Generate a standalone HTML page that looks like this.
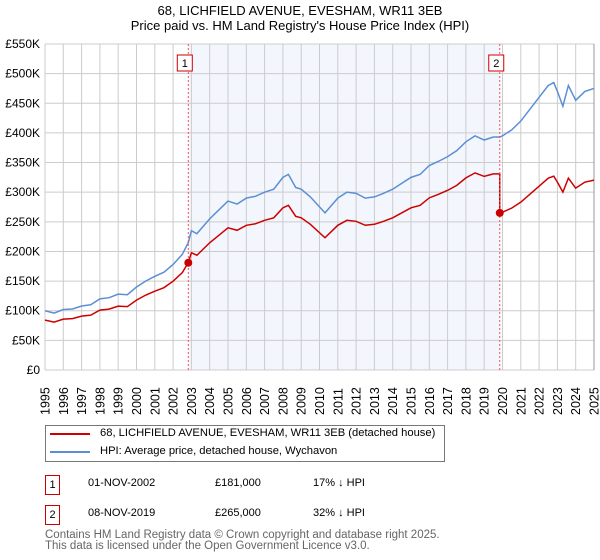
<!DOCTYPE html>
<html><head><meta charset="utf-8"><style>
body{margin:0;background:#fff;font-family:"Liberation Sans","DejaVu Sans",sans-serif;}
#wrap{position:relative;width:600px;height:560px;overflow:hidden}
.t{position:absolute;font-size:12px;color:#000;white-space:nowrap}
</style></head><body><div id="wrap">
<svg id="svg" width="600" height="560" style="position:absolute;left:0;top:0"></svg>
</div>
<script>
const years=[1995,1995.5,1996,1996.5,1997,1997.5,1998,1998.5,1999,1999.5,2000,2000.5,2001,2001.5,2002,2002.5,2002.83,2003,2003.3,2004,2004.5,2005,2005.5,2006,2006.5,2007,2007.5,2008,2008.3,2008.7,2009,2009.5,2010.3,2011,2011.5,2012,2012.5,2013,2013.5,2014,2014.5,2015,2015.5,2016,2016.5,2017,2017.5,2018,2018.5,2019,2019.5,2019.85,2020,2020.5,2021,2021.5,2022,2022.5,2022.8,2023,2023.3,2023.6,2024,2024.5,2025];
const hpi=[100,96,102,103,108,110,120,122,128,127,140,150,158,165,178,195,215,235,230,255,270,285,280,290,293,300,305,325,330,308,305,292,265,290,300,298,290,292,298,305,315,325,330,345,352,360,370,385,395,388,393,393,395,405,420,440,460,480,485,470,445,480,455,470,475];
const saleYears=[2002.83,2019.85];
const salePrices=[181,265];
const yTicks=[0,50,100,150,200,250,300,350,400,450,500,550];
const yLabels=["£0","£50K","£100K","£150K","£200K","£250K","£300K","£350K","£400K","£450K","£500K","£550K"];
const xTicks=[1995,1996,1997,1998,1999,2000,2001,2002,2003,2004,2005,2006,2007,2008,2009,2010,2011,2012,2013,2014,2015,2016,2017,2018,2019,2020,2021,2022,2023,2024,2025];

const L=45,R=594,T=44,B=370;
const X=v=>L+(v-1995)/30*(R-L);
const Y=v=>B-v/550*(B-T);
const svg=document.getElementById('svg');
const NS='http://www.w3.org/2000/svg';
function mk(tag,attrs,parent){const e=document.createElementNS(NS,tag);for(const k in attrs)e.setAttribute(k,attrs[k]);(parent||svg).appendChild(e);return e;}
function hpiAt(y){for(let i=1;i<years.length;i++){if(years[i]>=y){const f=(y-years[i-1])/(years[i]-years[i-1]);return hpi[i-1]+f*(hpi[i]-hpi[i-1]);}}return hpi[hpi.length-1];}

let e=mk('rect',{x:X(saleYears[0]),y:T,width:X(saleYears[1])-X(saleYears[0]),height:B-T,fill:'#eef2fc',opacity:0.7});

xTicks.forEach(t=>{const l=mk('line',{x1:X(t),x2:X(t),y1:T,y2:B,stroke:'#ccc','stroke-width':1});

const tx=mk('text',{x:0,y:0,transform:`translate(${X(t)+4.5},${B+45}) rotate(-90)`,'font-size':12.5,'font-family':'Liberation Sans, sans-serif'});tx.textContent=t;
});
yTicks.forEach((t,i)=>{const l=mk('line',{x1:L,x2:R,y1:Y(t),y2:Y(t),stroke:'#ccc','stroke-width':1});

const tx=mk('text',{x:L-5,y:Y(t)+4,'text-anchor':'end','font-size':12,'font-family':'Liberation Sans, sans-serif'});tx.textContent=yLabels[i];
});
e=mk('line',{x1:R,x2:R,y1:T,y2:B,stroke:'#999'});

e=mk('polyline',{points:years.map((y,i)=>X(y)+','+Y(hpi[i])).join(' '),fill:'none',stroke:'#5b8fd4','stroke-width':1.5});

const r1=salePrices[0]/hpiAt(saleYears[0]),r2=salePrices[1]/hpiAt(saleYears[1]);
const pts=[];
years.forEach((y,i)=>{if(y<=saleYears[1])pts.push([y,hpi[i]*r1]);});
pts.push([saleYears[1],hpiAt(saleYears[1])*r1]);pts.push([saleYears[1],salePrices[1]]);
years.forEach((y,i)=>{if(y>saleYears[1])pts.push([y,hpi[i]*r2]);});
e=mk('polyline',{points:pts.map(p=>X(p[0])+','+Y(p[1])).join(' '),fill:'none',stroke:'#cc0000','stroke-width':1.5});

saleYears.forEach((s,i)=>{
const v=mk('line',{x1:X(s),x2:X(s),y1:T,y2:B,stroke:'#e55','stroke-width':1,'stroke-dasharray':'2,2'});

const c=mk('circle',{cx:X(s),cy:Y(salePrices[i]),r:4,fill:'#cc0000'});

const b=mk('rect',{x:X(s)-11,y:55,width:15,height:16,fill:'#fff',stroke:'#c00'});

const t=mk('text',{x:X(s)-3.5,y:67,'text-anchor':'middle','font-size':11,'font-family':'Liberation Sans, sans-serif'});t.textContent=i+1;
});
</script>
<div class="t" style="left:0;width:600px;text-align:center;top:3px;font-size:13px">68, LICHFIELD AVENUE, EVESHAM, WR11 3EB<br>Price paid vs. HM Land Registry's House Price Index (HPI)</div>
<div style="position:absolute;left:45px;top:425px;width:400px;height:37px;border:1px solid #777;box-sizing:border-box">
<div style="position:absolute;left:4px;top:7px;width:40px;height:2px;background:#cc0000"></div>
<div class="t" style="left:54px;top:1px;font-size:11.2px">68, LICHFIELD AVENUE, EVESHAM, WR11 3EB (detached house)</div>
<div style="position:absolute;left:4px;top:25px;width:40px;height:2px;background:#5b8fd4"></div>
<div class="t" style="left:54px;top:19px;font-size:11.2px">HPI: Average price, detached house, Wychavon</div>
</div>
<div style="position:absolute;left:45px;top:475px;width:15px;height:20px;border:1px solid #c00;box-sizing:border-box;font-size:11px;text-align:center;line-height:18px">1</div>
<div class="t" style="left:88px;top:477px;font-size:11px">01-NOV-2002</div>
<div class="t" style="left:215px;top:477px;font-size:11px">£181,000</div>
<div class="t" style="left:313px;top:477px;font-size:11px">17% ↓ HPI</div>
<div style="position:absolute;left:45px;top:505px;width:15px;height:20px;border:1px solid #c00;box-sizing:border-box;font-size:11px;text-align:center;line-height:18px">2</div>
<div class="t" style="left:88px;top:507px;font-size:11px">08-NOV-2019</div>
<div class="t" style="left:215px;top:507px;font-size:11px">£265,000</div>
<div class="t" style="left:313px;top:507px;font-size:11px">32% ↓ HPI</div>
<div class="t" style="left:45px;top:530px;font-size:11.5px;color:#666;line-height:10.5px">Contains HM Land Registry data © Crown copyright and database right 2025.<br>This data is licensed under the Open Government Licence v3.0.</div>
</body></html>
